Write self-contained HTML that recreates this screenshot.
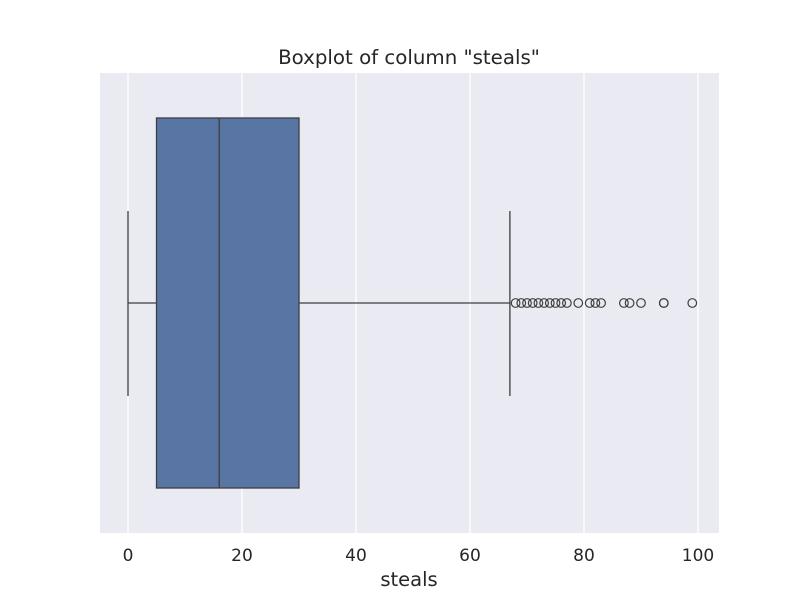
<!DOCTYPE html>
<html><head><meta charset="utf-8"><style>
body{margin:0;background:#fff;}
svg{display:block;font-family:"DejaVu Sans","Liberation Sans",sans-serif;}
</style></head><body>
<svg id="chart" width="800" height="600">
<rect x="100" y="73" width="619" height="460" fill="#eaeaf2"/>
<g id="grid"></g><g id="marks"></g><g id="ticks"></g>
<text x="409" y="64" text-anchor="middle" font-size="19.8" fill="#262626">Boxplot of column "steals"</text>
<text x="409" y="586" text-anchor="middle" font-size="19.5" fill="#262626">steals</text>
</svg>
<script>
const tickValues=[0,20,40,60,80,100];
const stats={min:0,q1:5,median:16,q3:30,max:67};
const outliers=[68,69,70,71,72,73,74,75,76,77,79,81,82,83,87,88,90,94,94,99];
const NS="http://www.w3.org/2000/svg";
const x=v=>128+v*5.7;
const yc=303, boxTop=118, boxBot=488;
function mk(tag,a,p){const e=document.createElementNS(NS,tag);for(const k in a)e.setAttribute(k,a[k]);p.appendChild(e);return e;}
const g=document.getElementById('grid'),m=document.getElementById('marks'),t=document.getElementById('ticks');
tickValues.forEach(v=>{
 const l=mk('line',{x1:x(v),x2:x(v),y1:73,y2:533,stroke:'#fff','stroke-width':1.3},g);
 
 
 const tx=mk('text',{x:x(v),y:561,'text-anchor':'middle','font-size':17,fill:'#262626'},t);
 tx.textContent=v;
 
 
});
const c='#3f3f3f';
let e=mk('line',{x1:x(stats.min),x2:x(stats.q1),y1:yc,y2:yc,stroke:c,'stroke-width':1.3},m);


e=mk('line',{x1:x(stats.q3),x2:x(stats.max),y1:yc,y2:yc,stroke:c,'stroke-width':1.3},m);


e=mk('line',{x1:x(stats.min),x2:x(stats.min),y1:211,y2:396,stroke:c,'stroke-width':1.3},m);


e=mk('line',{x1:x(stats.max),x2:x(stats.max),y1:211,y2:396,stroke:c,'stroke-width':1.3},m);


e=mk('rect',{x:x(stats.q1),y:boxTop,width:x(stats.q3)-x(stats.q1),height:boxBot-boxTop,fill:'#5875a4',stroke:c,'stroke-width':1.3},m);


e=mk('line',{x1:x(stats.median),x2:x(stats.median),y1:boxTop,y2:boxBot,stroke:c,'stroke-width':1.3},m);


outliers.forEach(v=>{
 const o=mk('circle',{cx:x(v),cy:yc,r:4.3,fill:'none',stroke:c,'stroke-width':1.2},m);
 
 
});
</script>
</body></html>
